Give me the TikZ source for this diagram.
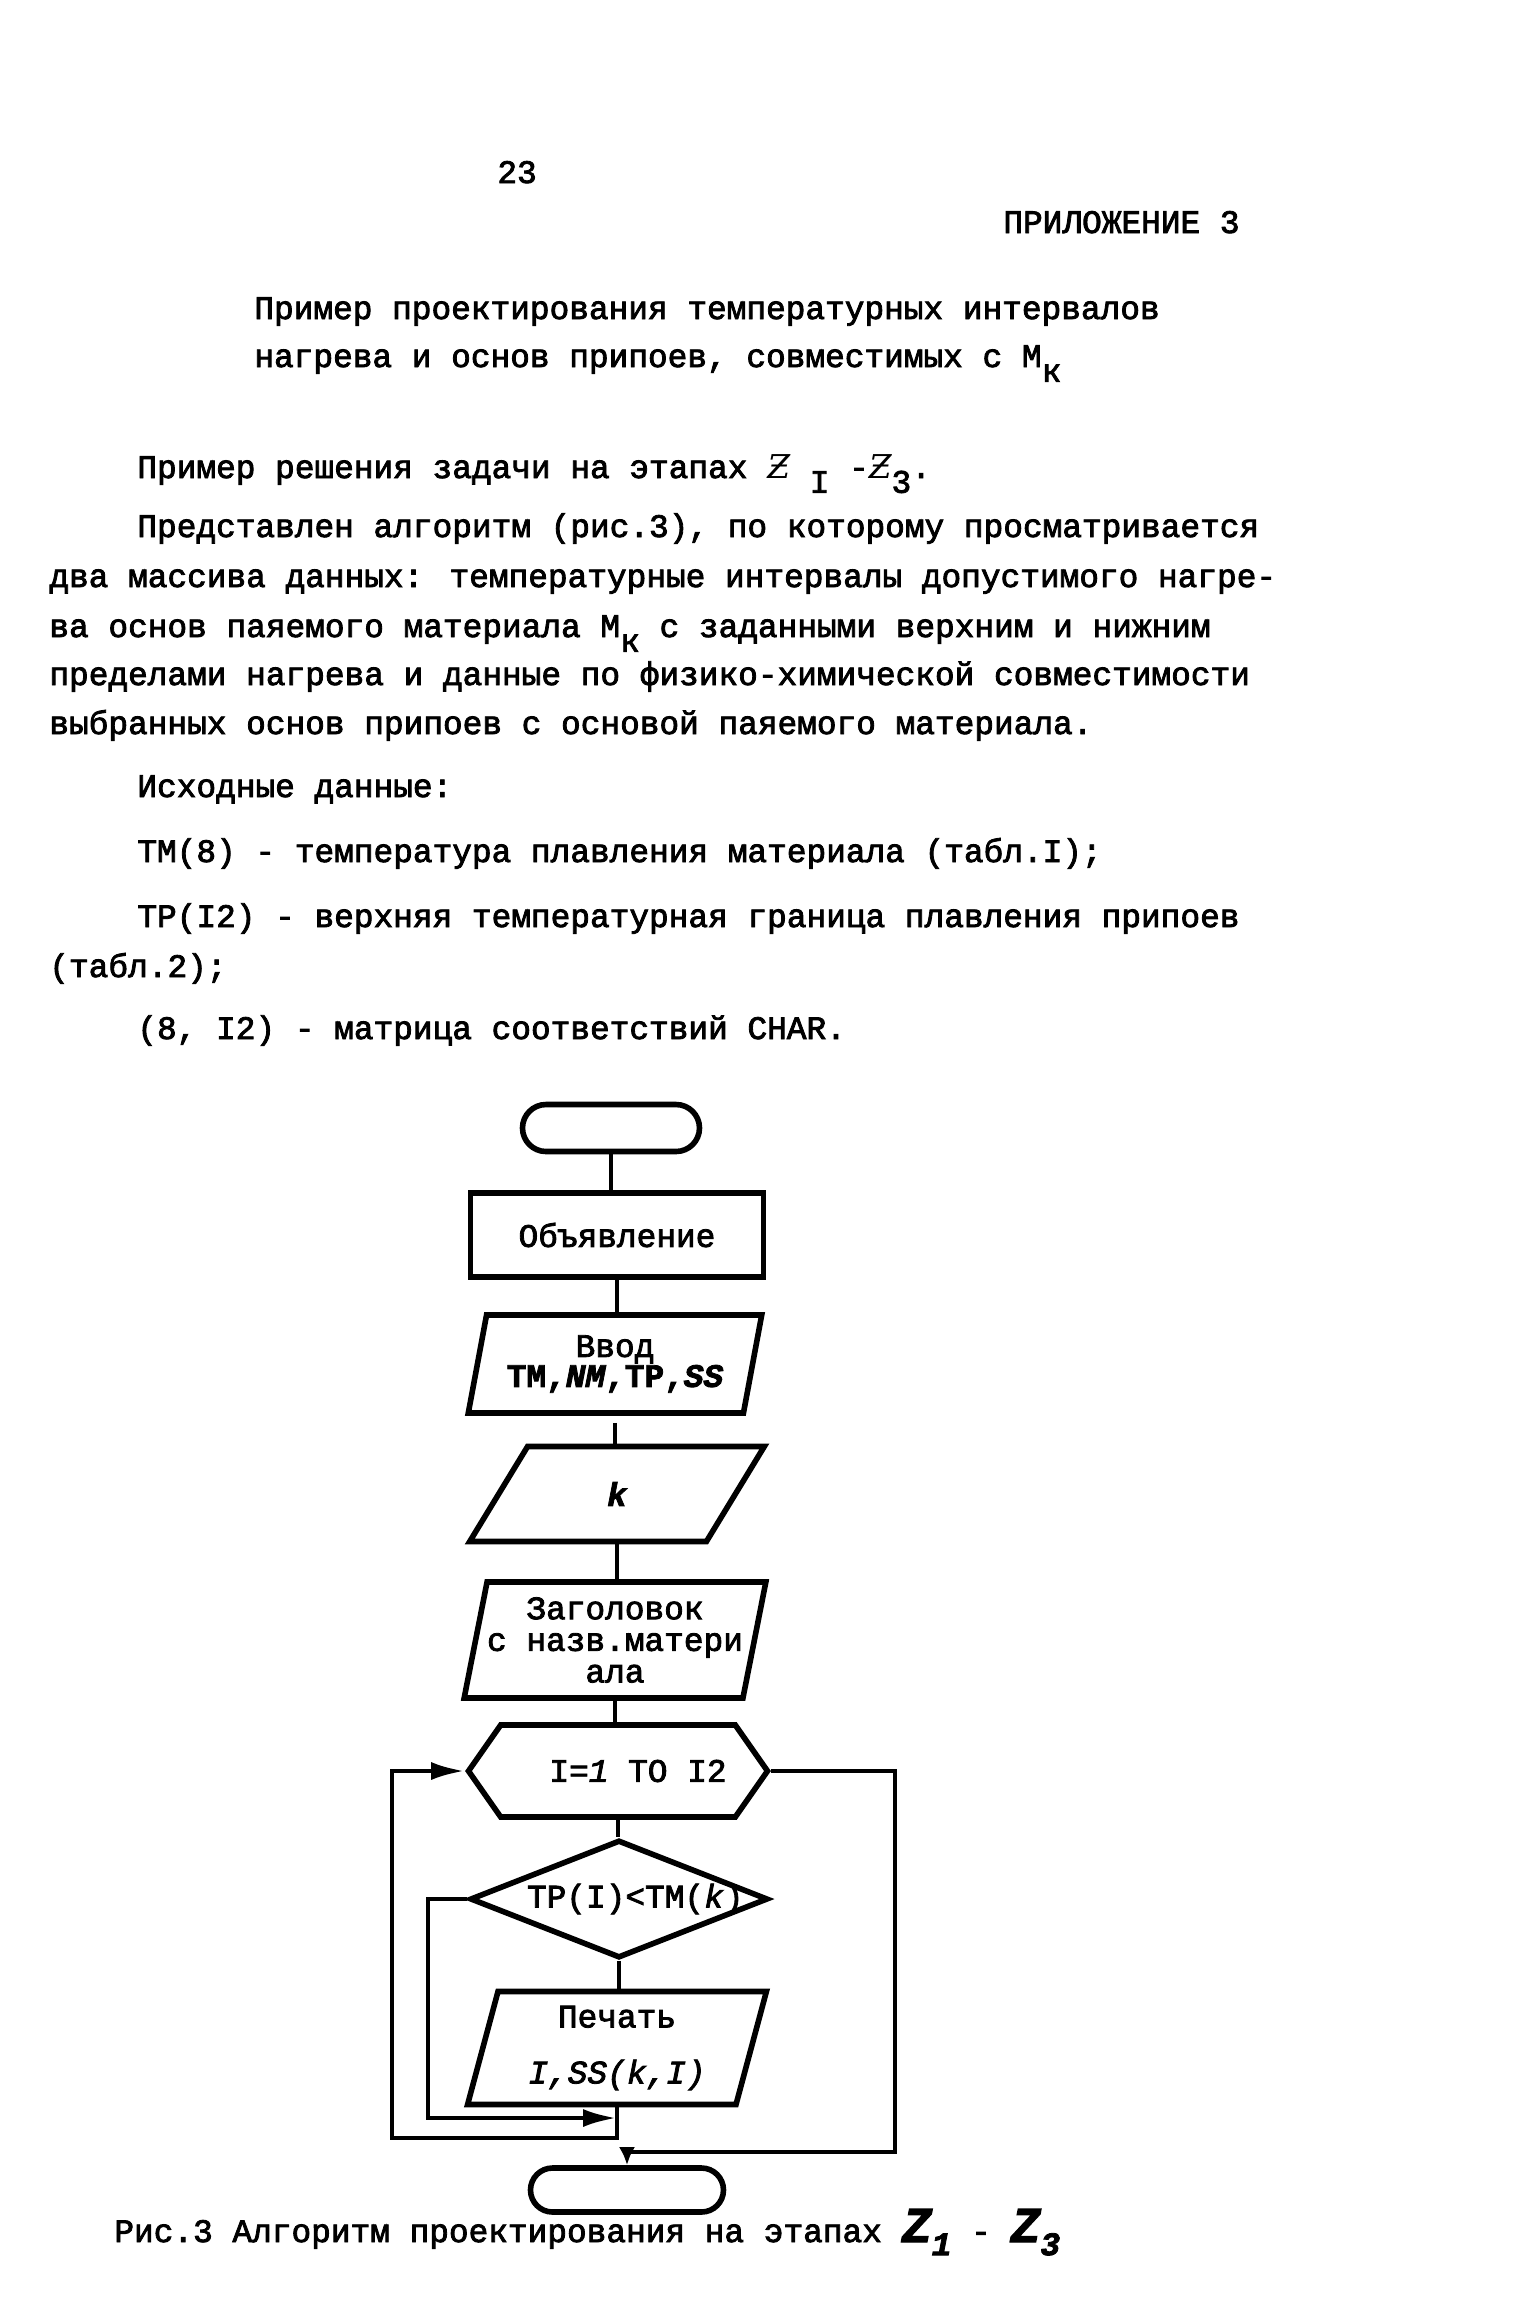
\documentclass[tikz,border=0pt]{standalone}
\usepackage{fontspec}
\setmainfont{Liberation Mono}[FakeBold=2.5]
\newfontfamily\zfont{DejaVu Serif}
\usepackage{tikz}
\usetikzlibrary{
	shapes.geometric,
	shapes.misc,
	shapes.symbols,
	arrows.meta
}
\newcommand{\bodyfont}{\fontsize{16.4}{20}\selectfont}
\newcommand{\lowr}[1]{\raisebox{-0.45em}{#1}}
\newcommand{\zee}{{\zfont\itshape Ƶ}}
\newcommand{\capz}[1]{{\fontsize{25}{25}\selectfont\bfseries\itshape Z}\raisebox{-0.4em}{\bfseries\itshape #1}}

\begin{document}
\begin{tikzpicture}[x=0.5pt, y=-0.5pt,
				txt/.style={anchor=base west, inner sep=0pt, font=\bodyfont},
				shp/.style={
					draw, line width=2.8pt, inner sep=0pt,
					align=center, font=\bodyfont
				},
				term/.style={shp, rounded rectangle},
				procbox/.style={shp, rectangle},
				iobox/.style={
					shp, trapezium, trapezium stretches=true,
					trapezium left angle=75, trapezium right angle=105
				},
				loopbox/.style={shp, signal, signal to=west and east, signal pointer angle=110},
				testbox/.style={shp, diamond, aspect=2.5},
				conn/.style={line width=2.4pt},
				arrow/.style={conn, -{Latex[length=17pt,width=9pt]}},
				]
				
				%page
				\fill[white] (0,0) rectangle (1514,2314);
				\useasboundingbox (0,0) rectangle (1514,2314);
				
				%header
				\node[txt] (pagenum) at (497,183) {23};
				\node[txt] (appendix) at (1003,233) {ПРИЛОЖЕНИЕ 3};
				\node[txt] (title1) at (254,319) {Пример проектирования температурных интервалов};
				\node[txt] (title2) at (254,367) {нагрева и основ припоев, совместимых с М\lowr{к}};
				
				%text
				\node[txt] (stages) at (137,478) {Пример решения задачи на этапах \zee\lowr{ I} -\zee\lowr{3}.};
				\node[txt] (para1) at (137,537) {Представлен алгоритм (рис.3), по которому просматривается};
				\node[txt] (para2) at (49,587) {два массива данных: температурные интервалы допустимого нагре-};
				\node[txt] (para3) at (49,637) {ва основ паяемого материала М\lowr{к} с заданными верхним и нижним};
				\node[txt] (para4) at (49,685) {пределами нагрева и данные по физико-химической совместимости};
				\node[txt] (para5) at (49,734) {выбранных основ припоев с основой паяемого материала.};
				\node[txt] (given) at (137,797) {Исходные данные:};
				\node[txt] (tmline) at (137,862) {TM(8) - температура плавления материала (табл.I);};
				\node[txt] (tpline) at (137,927) {TP(I2) - верхняя температурная граница плавления припоев};
				\node[txt] (tabline) at (49,977) {(табл.2);};
				\node[txt] (charline) at (137,1039) {(8, I2) - матрица соответствий CHAR.};
				
				%flowchart
				\node[term, minimum width=88.5pt, minimum height=23.5pt] (start) at (611,1128) {};
				\node[procbox, minimum width=146.5pt, minimum height=42pt] (decl) at (617,1235) {Объявление};
				\node[iobox, minimum width=147pt, minimum height=49pt, font=\fontsize{16.4}{15}\selectfont] (input) at (615,1364) {Ввод\\{\bfseries TM,\textit{NM},TP,\textit{SS}}};
				\node[iobox, minimum width=147.5pt, minimum height=47.5pt] (kin) at (617,1494) {{\bfseries\itshape k}};
				\node[iobox, minimum width=150pt, minimum height=58pt, font=\fontsize{16.4}{15.8}\selectfont] (head) at (615,1640) {Заголовок\\с назв.матери\\ала};
				
				%loop
				\node[loopbox, minimum width=149.5pt, minimum height=46pt] (loop) at (618,1771) {\hspace*{20pt}I={\itshape 1} TO I2};
				\node[testbox, minimum width=149pt, minimum height=59pt] (check) at (619,1899) {\makebox[108pt][l]{\hspace*{8pt}TP(I)<TM(\textit{k})}};
				\node[iobox, minimum width=149.5pt, minimum height=56.5pt] (print) at (617,2048) {Печать\\[8pt]{\itshape I,SS(k,I)}};
				\node[term, minimum width=96.5pt, minimum height=22pt] (stop) at (627,2190) {};
				
				\coordinate (outl) at (392,2138);
				\coordinate (innl) at (428,2118);
				\coordinate (outr) at (895,2152);
				
				\draw[conn] (start.south) -- (start.south |- decl.north);
				\draw[conn] (decl.south) -- (decl.south |- input.north);
				\draw[conn, shorten <=3.5pt] (input.south) -- (input.south |- kin.north);
				\draw[conn] (kin.south) -- (kin.south |- head.north);
				\draw[conn] (head.south) -- (head.south |- loop.north);
				\draw[conn] (loop.south) -- (loop.south |- check.north);
				\draw[conn] (check.south) -- (check.south |- print.north);
				
				\draw[arrow] (print.south) |- (outl) |- (loop.west);
				\draw[arrow] (check.west) -| (innl) -- (print.south |- innl);
				\draw[conn, -{Latex[length=9pt,width=8pt]}] (loop.east) -| (outr) -| (stop.north);
				
				%caption
				\node[txt] (caption) at (114,2242) {Рис.3 Алгоритм проектирования на этапах \capz{1} - \capz{3}};
			\end{tikzpicture}
\end{document}
